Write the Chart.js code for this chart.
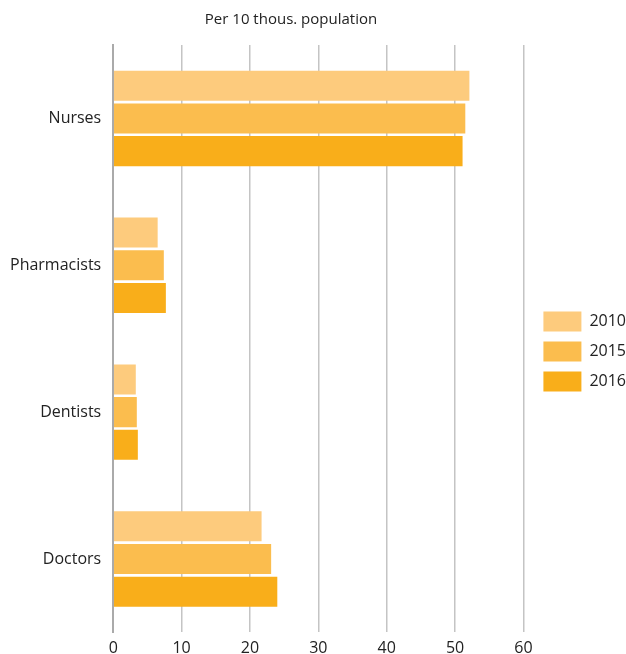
<!DOCTYPE html>
<html>
<head>
<meta charset="utf-8">
<script src="https://cdn.jsdelivr.net/npm/chart.js@4"></script>
<style>
  html, body { margin: 0; padding: 0; background: #fff; }
  #wrap { width: 626px; height: 654px; }
</style>
</head>
<body>
<div id="wrap"><canvas id="healthChart"></canvas></div>
<script>
// Health workers per 10 thousand population
const categories = ['Nurses', 'Pharmacists', 'Dentists', 'Doctors'];
const years = ['2010', '2015', '2016'];
const values2010 = [52.1, 6.5, 3.3, 21.7];
const values2015 = [51.5, 7.4, 3.45, 23.1];
const values2016 = [51.1, 7.7, 3.6, 24.0];
const xTicks = [0, 10, 20, 30, 40, 50, 60];
const colors = ['#fdcb7d', '#fbbd4e', '#f9ae1a'];

const fontFamily = '"Open Sans", "Noto Sans", sans-serif';

// title drawn above the plot
const titlePlugin = {
    id: 'topTitle',
    afterDraw(chart) {
        const ctx = chart.ctx;
        ctx.save();
        ctx.font = '15px ' + fontFamily;
        ctx.fillStyle = '#222';
        ctx.textAlign = 'center';
        ctx.textBaseline = 'middle';
        ctx.fillText('Per 10 thous. population', 291, 20);
        ctx.restore();
    }
};

// push the legend a little away from the plot
const legendShift = {
    id: 'legendShift',
    afterLayout(chart) {
        if (chart.legend) {
            chart.legend.left += 10;
            chart.legend.top -= 4;
            chart.legend.bottom -= 4;
        }
    }
};

const data = {
    labels: categories,
    datasets: [values2010, values2015, values2016].map((vals, i) => ({
        label: years[i],
        data: vals,
        backgroundColor: colors[i],
        borderWidth: 0,
        barPercentage: 0.92,
        categoryPercentage: 0.668
    }))
};

const config = {
    type: 'bar',
    data: data,
    options: {
        indexAxis: 'y',
        responsive: true,
        maintainAspectRatio: false,
        animation: false,
        layout: {
            padding: { top: 45, right: 0, left: -2, bottom: -12 }
        },
        scales: {
            x: {
                min: 0,
                max: 60,
                afterBuildTicks(axis) {
                    axis.ticks = xTicks.map(v => ({ value: v }));
                },
                grid: {
                    color: '#c4c4c4',
                    lineWidth: 1.5,
                    drawTicks: false
                },
                border: { display: false },
                ticks: {
                    color: '#222',
                    padding: 6,
                    font: { family: fontFamily, size: 16 }
                }
            },
            y: {
                grid: { display: false, drawTicks: false },
                border: { color: '#aaa', width: 2 },
                ticks: {
                    color: '#222',
                    padding: 12,
                    font: { family: fontFamily, size: 16 }
                }
            }
        },
        plugins: {
            legend: {
                position: 'right',
                labels: {
                    boxWidth: 38,
                    boxHeight: 20,
                    padding: 10,
                    color: '#222',
                    font: { family: fontFamily, size: 16 }
                }
            },
            tooltip: { enabled: false }
        }
    },
    plugins: [titlePlugin, legendShift]
};

const healthChart = new Chart(document.getElementById('healthChart'), config);
</script>
</body>
</html>
